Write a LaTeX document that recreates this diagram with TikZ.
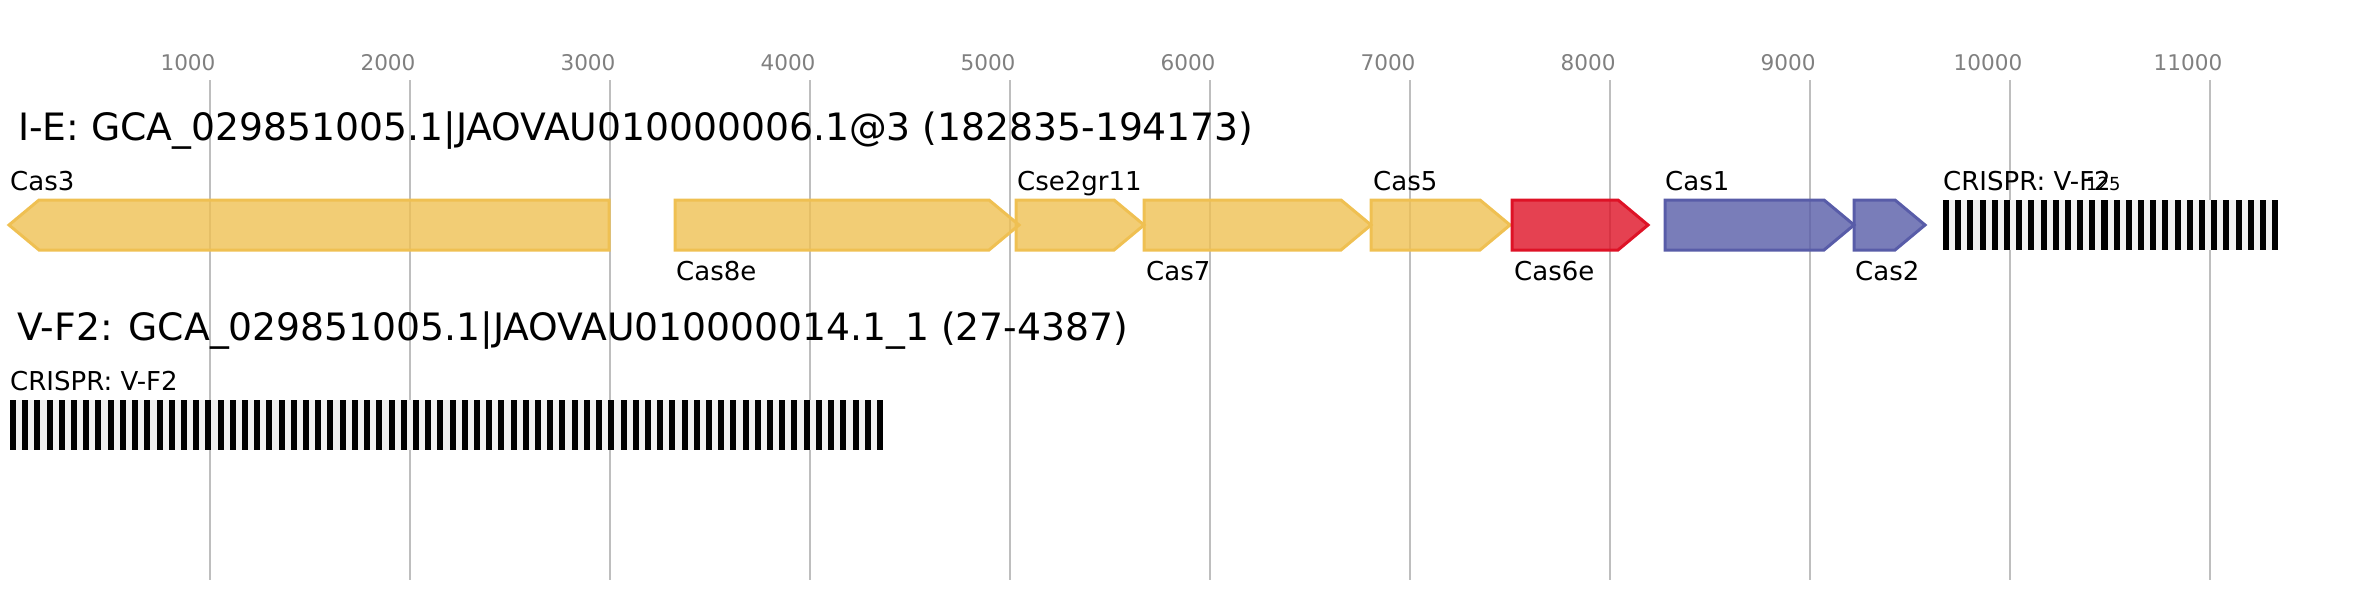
\documentclass[tikz,border=0pt]{standalone}
\usepackage{fontspec}
\setmainfont{DejaVu Sans}
\definecolor{geneyellow}{RGB}{239,192,82}
\definecolor{genered}{RGB}{222,18,38}
\definecolor{geneblue}{RGB}{88,92,168}
\definecolor{gridgray}{RGB}{190,190,190}
\definecolor{tickgray}{RGB}{128,128,128}
\definecolor{repeatbg}{RGB}{240,240,240}

\begin{document}
\begin{tikzpicture}[x=1pt, y=-1pt,
    gridline/.style={draw=gridgray, line width=2pt},
    ticklabel/.style={inner sep=0pt, anchor=base, text=tickgray, font=\fontsize{21.6}{26}\selectfont},
    rowtitle/.style={inner sep=0pt, anchor=base west, font=\fontsize{37.7}{45}\selectfont},
    genelabel/.style={inner sep=0pt, anchor=base west, font=\fontsize{26}{31}\selectfont},
    gene/.style={line width=3pt, line join=miter, fill opacity=0.8}]
  \useasboundingbox (0,0) rectangle (2368,600);
  % grid and scale
  \foreach \k in {1,...,11} {
    \draw[gridline] (10+200*\k,80) -- (10+200*\k,580);
    \node[ticklabel] (tick\k) at (10+200*\k-22,70) {\k000};
  }
  % I-E locus
  \node[rowtitle] (ietitle) at (18,140) {I-E: GCA\_029851005.1|JAOVAU010000006.1@3 (182835-194173)};
  \draw[gene, draw=geneyellow, fill=geneyellow] (9,225) -- (39,200) -- (609,200) -- (609,250) -- (39,250) -- cycle;
  \foreach \xa/\xb/\gc in {675/1019/geneyellow, 1016/1144/geneyellow, 1144/1371/geneyellow,
      1371/1510/geneyellow, 1512/1648/genered, 1665/1854/geneblue, 1854/1925/geneblue}
    \draw[gene, draw=\gc, fill=\gc] (\xa,200) -- (\xb-30,200) -- (\xb,225) -- (\xb-30,250) -- (\xa,250) -- cycle;
  \node[genelabel] (cas3) at (10,190) {Cas3};
  \node[genelabel] (cas8e) at (676,280) {Cas8e};
  \node[genelabel] (cse2) at (1017,190) {Cse2gr11};
  \node[genelabel] (cas7) at (1146,280) {Cas7};
  \node[genelabel] (cas5) at (1373,190) {Cas5};
  \node[genelabel] (cas6e) at (1514,280) {Cas6e};
  \node[genelabel] (cas1) at (1665,190) {Cas1};
  \node[genelabel] (cas2) at (1855,280) {Cas2};
  \fill[repeatbg] (1943,200) rectangle (2278,250);
  \foreach \i in {0,...,27}
    \fill[black] (1943+\i*12.19,200) rectangle ++(6,50);
  \node[genelabel] (crispra) at (1943,190) {CRISPR: V-F2};
  \node[inner sep=0pt, anchor=base west, font=\fontsize{18}{22}\selectfont] (crispran) at (2086,190) {125};
  % V-F2 locus
  \node[rowtitle] (vftitle) at (17,340) {V-F2: GCA\_029851005.1|JAOVAU010000014.1\_1 (27-4387)};
  \fill[repeatbg] (10,400) rectangle (883,450);
  \foreach \i in {0,...,71}
    \fill[black] (10+\i*12.21,400) rectangle ++(6,50);
  \node[genelabel] (crisprb) at (10,390) {CRISPR: V-F2};
\end{tikzpicture}
\end{document}
